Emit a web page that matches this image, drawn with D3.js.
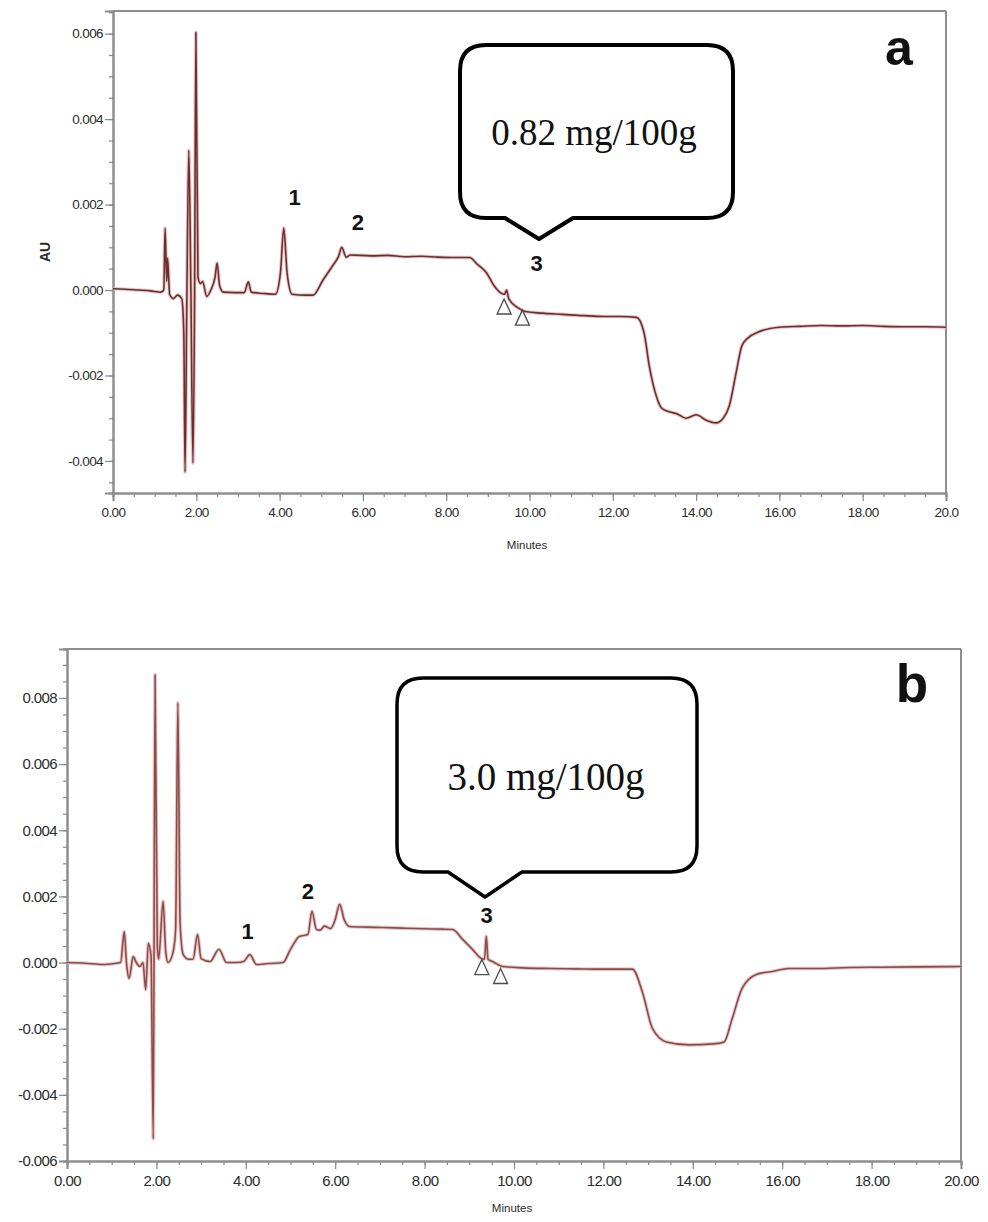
<!DOCTYPE html>
<html>
<head>
<meta charset="utf-8">
<script src="https://cdn.jsdelivr.net/npm/d3@7"></script>
<style>
  html, body { margin: 0; padding: 0; background: #fff; }
  svg { display: block; }
</style>
</head>
<body>
<svg id="chart" width="988" height="1222"></svg>
<script>
// ---------------- DATA ----------------
// Panel a chromatogram (time in minutes, absorbance AU)
const timeA = [0.00,0.30,0.60,0.90,1.15,1.22,1.25,1.29,1.31,1.36,1.45,1.55,1.65,1.70,1.73,1.77,1.82,1.87,1.92,1.96,1.99,2.04,2.10,2.15,2.25,2.35,2.45,2.50,2.56,2.65,2.90,3.15,3.25,3.32,3.60,3.90,4.02,4.10,4.18,4.30,4.60,4.80,5.04,5.28,5.42,5.49,5.60,5.70,6.20,6.60,7.00,7.40,7.80,8.20,8.56,8.75,8.97,9.15,9.30,9.40,9.45,9.50,9.70,9.93,10.30,10.80,11.30,11.80,12.20,12.57,12.75,12.88,13.05,13.17,13.36,13.55,13.76,14.00,14.25,14.48,14.65,14.80,14.96,15.10,15.25,15.50,16.00,16.50,17.00,17.50,18.00,18.50,19.00,19.50,20.00];
const auA   = [0.00003,0.00002,0.0,-0.00002,-0.00005,0.0,0.00145,0.0002,0.00075,-0.0001,-0.0002,-0.00012,-0.0002,-0.001,-0.00426,-0.0005,0.00327,0.0,-0.00405,0.0,0.00603,0.0003,0.00015,0.0002,-0.00015,0.0,0.0003,0.00063,0.0001,-0.00005,-0.00006,-0.00006,0.00019,-0.00005,-0.00008,-0.0001,0.0004,0.00145,0.0004,-0.0001,-0.00012,-0.00012,0.00023,0.00058,0.0008,0.001,0.00077,0.00082,0.0008,0.00081,0.00078,0.00079,0.00077,0.00076,0.00076,0.0006,0.0004,0.0001,-0.00006,-0.0001,0.0,-0.0002,-0.0004,-0.00051,-0.00054,-0.00057,-0.0006,-0.00062,-0.00062,-0.00064,-0.001,-0.0018,-0.0025,-0.00276,-0.00285,-0.0029,-0.003,-0.00292,-0.00305,-0.00311,-0.003,-0.0027,-0.00194,-0.0013,-0.00112,-0.00098,-0.00087,-0.00085,-0.00083,-0.00084,-0.00083,-0.00085,-0.00086,-0.00086,-0.00087];

// Panel b chromatogram
const timeB = [0.00,0.40,0.80,1.10,1.20,1.28,1.33,1.39,1.48,1.55,1.63,1.70,1.76,1.82,1.88,1.93,1.97,2.02,2.05,2.15,2.21,2.26,2.37,2.43,2.48,2.53,2.60,2.72,2.82,2.92,3.00,3.20,3.40,3.57,3.80,3.95,4.09,4.24,4.50,4.83,5.00,5.20,5.39,5.48,5.58,5.66,5.76,5.90,6.00,6.10,6.20,6.32,6.70,7.06,7.50,8.00,8.40,8.63,8.85,9.07,9.27,9.34,9.38,9.42,9.52,9.75,10.20,10.80,11.40,11.90,12.30,12.65,12.87,13.10,13.41,13.92,14.44,14.70,14.88,15.10,15.42,15.78,16.15,16.76,17.50,18.20,19.00,20.00];
const auB   = [0.0,-0.00002,-0.00006,-0.00002,0.0,0.00094,0.0,-0.00048,0.00018,0.0,-0.00012,0.0,-0.00082,0.00058,0.0002,-0.00533,0.0087,0.0005,0.0001,0.00185,0.0003,0.0,0.0003,0.001,0.00785,0.0012,0.00024,0.0001,0.0001,0.00085,0.00012,0.00003,0.0004,0.0,0.0,0.00003,0.00024,-0.00006,-0.00003,0.0,0.0004,0.00079,0.00085,0.00155,0.001,0.00098,0.0011,0.00103,0.0013,0.00176,0.0013,0.00109,0.00107,0.00106,0.00104,0.00102,0.00101,0.001,0.0007,0.0004,0.00012,0.0001,0.00079,0.0001,0.00003,-0.00012,-0.00016,-0.00018,-0.00019,-0.0002,-0.0002,-0.0002,-0.00088,-0.002,-0.0024,-0.00249,-0.00246,-0.0024,-0.0017,-0.00079,-0.00036,-0.00027,-0.00018,-0.00018,-0.00015,-0.00014,-0.00013,-0.00012];

// Peak start/end markers (triangles)
const markerTimeA = [9.39, 9.83];
const markerAUA   = [-0.00021, -0.00047];
const markerTimeB = [9.28, 9.70];
const markerAUB   = [0.00009, -0.00018];

// Peak number labels
const peakNames   = ["1", "2", "3"];
const peakTimeA   = [4.36, 5.88, 10.17];
const peakAUA     = [0.00218, 0.00159, 0.00063];
const peakTimeB   = [4.04, 5.39, 9.39];
const peakAUB     = [0.00094, 0.00215, 0.00145];

// Tick values
const xMajorTicks = [0, 2, 4, 6, 8, 10, 12, 14, 16, 18, 20];
const xMinorTicks = d3.range(0, 20.01, 0.5);
const yMajorTicksA = [-0.004, -0.002, 0, 0.002, 0.004, 0.006];
const yMinorTicksA = d3.range(-0.0045, 0.00651, 0.0005);
const yMajorTicksB = [-0.006, -0.004, -0.002, 0, 0.002, 0.004, 0.006, 0.008];
const yMinorTicksB = d3.range(-0.006, 0.00951, 0.0005);

// Texts
const panelLetters = ["a", "b"];
const calloutTexts = ["0.82 mg/100g", "3.0 mg/100g"];
const xTitle = "Minutes";
const yTitle = "AU";

// ---------------- DRAWING ----------------
const svg = d3.select("#chart");
const fmtX = d3.format(".2f");
const fmtY = v => d3.format(".3f")(v).replace("\u2212", "-");

function drawPanel(cfg) {
  const g = svg.append("g");
  const x = d3.scaleLinear().domain([0, 20]).range([cfg.left, cfg.right]);
  const y = d3.scaleLinear().domain(cfg.yDomain).range([cfg.bottom, cfg.top]);

  const frameColor = "#8e8e8e";
  g.append("line").attr("x1", cfg.left).attr("x2", cfg.right).attr("y1", cfg.top).attr("y2", cfg.top)
    .attr("stroke", frameColor).attr("stroke-width", 2);
  g.append("line").attr("x1", cfg.right).attr("x2", cfg.right).attr("y1", cfg.top).attr("y2", cfg.bottom)
    .attr("stroke", frameColor).attr("stroke-width", 2);

  const xMinor = g.append("g").attr("transform", `translate(0,${cfg.bottom})`)
    .call(d3.axisBottom(x).tickValues(xMinorTicks).tickSize(4).tickFormat(""));
  const xMajor = g.append("g").attr("transform", `translate(0,${cfg.bottom})`)
    .call(d3.axisBottom(x).tickValues(xMajorTicks).tickSize(8).tickPadding(6).tickFormat(fmtX));
  const yMinor = g.append("g").attr("transform", `translate(${cfg.left},0)`)
    .call(d3.axisLeft(y).tickValues(cfg.yMinor).tickSize(4).tickFormat(""));
  const yMajor = g.append("g").attr("transform", `translate(${cfg.left},0)`)
    .call(d3.axisLeft(y).tickValues(cfg.yMajor).tickSize(8).tickPadding(2).tickFormat(fmtY));

  [xMinor, xMajor, yMinor, yMajor].forEach(ax => {
    ax.select(".domain").attr("stroke", frameColor).attr("stroke-width", 2);
    ax.selectAll(".tick line").attr("stroke", "#8a8a8a").attr("stroke-width", 1.2);
    ax.selectAll("text").attr("fill", "#2b2b2b")
      .attr("font-family", "'Liberation Sans', Arial, sans-serif");
  });
  xMajor.selectAll("text").attr("font-size", cfg.xFont).attr("letter-spacing", "-0.6");
  yMajor.selectAll("text").attr("font-size", cfg.yFont).attr("letter-spacing", "-0.6");
  if (cfg.lastXLabel) {
    xMajor.selectAll(".tick").filter(d => d === 20).select("text").text(cfg.lastXLabel);
  }

  g.append("text").attr("x", cfg.xTitleX).attr("y", cfg.xTitleY).attr("text-anchor", "middle")
    .attr("font-family", "'Liberation Sans', Arial, sans-serif").attr("font-size", 11.5)
    .attr("fill", "#2b2b2b").text(xTitle);
  if (cfg.showYTitle) {
    g.append("text").attr("transform", `translate(${cfg.yTitleX},${cfg.yTitleY}) rotate(-90)`)
      .attr("text-anchor", "middle").attr("font-family", "'Liberation Sans', Arial, sans-serif")
      .attr("font-size", 14).attr("font-weight", "bold").attr("fill", "#2b2b2b").text(yTitle);
  }

  const pts = cfg.times.map((t, i) => [t, cfg.au[i]]);
  const line = d3.line().x(d => x(d[0])).y(d => y(d[1])).curve(d3.curveMonotoneX);
  g.append("path").datum(pts).attr("d", line).attr("fill", "none")
    .attr("stroke", "#e3b2b2").attr("stroke-width", 3.6).attr("stroke-linejoin", "round").attr("opacity", 0.75);
  g.append("path").datum(pts).attr("d", line).attr("fill", "none")
    .attr("stroke", cfg.lineColor).attr("stroke-width", 1.6).attr("stroke-linejoin", "round");

  cfg.mTimes.forEach((t, i) => {
    const px = x(t), py = y(cfg.mAU[i]);
    g.append("path")
      .attr("d", `M${px},${py} L${px + 7},${py + 15} L${px - 7},${py + 15} Z`)
      .attr("fill", "none").attr("stroke", "#4a4a4a").attr("stroke-width", 1.3);
  });

  cfg.pTimes.forEach((t, i) => {
    g.append("text").attr("x", x(t)).attr("y", y(cfg.pAU[i])).attr("dy", "0.36em")
      .attr("text-anchor", "middle").attr("font-family", "'Liberation Sans', Arial, sans-serif")
      .attr("font-weight", "bold").attr("font-size", 22).attr("fill", "#111").text(peakNames[i]);
  });

  g.append("text").attr("x", cfg.letterX).attr("y", cfg.letterY).attr("text-anchor", "middle")
    .attr("font-family", "'Liberation Sans', Arial, sans-serif").attr("font-weight", "bold")
    .attr("font-size", cfg.letterSize).attr("fill", "#111").text(cfg.letter);

  const c = cfg.callout, r = c.r;
  const d = [
    `M${c.x0 + r},${c.y0}`,
    `L${c.x1 - r},${c.y0}`,
    `Q${c.x1},${c.y0} ${c.x1},${c.y0 + r}`,
    `L${c.x1},${c.y1 - r}`,
    `Q${c.x1},${c.y1} ${c.x1 - r},${c.y1}`,
    `L${c.pR},${c.y1}`,
    `L${c.pX},${c.pY}`,
    `L${c.pL},${c.y1}`,
    `L${c.x0 + r},${c.y1}`,
    `Q${c.x0},${c.y1} ${c.x0},${c.y1 - r}`,
    `L${c.x0},${c.y0 + r}`,
    `Q${c.x0},${c.y0} ${c.x0 + r},${c.y0}`,
    "Z"
  ].join(" ");
  g.append("path").attr("d", d).attr("fill", "#fff").attr("stroke", "#000")
    .attr("stroke-width", c.sw).attr("stroke-linejoin", "round");
  g.append("text").attr("x", c.tx).attr("y", c.ty).attr("text-anchor", "middle")
    .attr("font-family", "'Liberation Serif', 'Times New Roman', serif")
    .attr("font-size", c.fs).attr("fill", "#111").text(cfg.calloutText);
}

drawPanel({
  left: 113, right: 946, top: 11, bottom: 493,
  yDomain: [-0.00475, 0.00653],
  yMajor: yMajorTicksA, yMinor: yMinorTicksA,
  xFont: 13.5, yFont: 13.5, lastXLabel: "20.0",
  xTitleX: 527, xTitleY: 549, showYTitle: true, yTitleX: 50, yTitleY: 252,
  times: timeA, au: auA, lineColor: "#6a3030",
  mTimes: markerTimeA, mAU: markerAUA,
  pTimes: peakTimeA, pAU: peakAUA,
  letter: panelLetters[0], letterX: 899, letterY: 65, letterSize: 50,
  callout: { x0: 460, x1: 733, y0: 45, y1: 218, r: 26, pL: 505, pX: 539, pY: 239, pR: 573, sw: 4,
             tx: 594, ty: 145, fs: 37 },
  calloutText: calloutTexts[0]
});

drawPanel({
  left: 67, right: 961, top: 649, bottom: 1161,
  yDomain: [-0.006, 0.00948],
  yMajor: yMajorTicksB, yMinor: yMinorTicksB,
  xFont: 15, yFont: 15, lastXLabel: null,
  xTitleX: 512, xTitleY: 1212, showYTitle: false,
  times: timeB, au: auB, lineColor: "#8a4c4c",
  mTimes: markerTimeB, mAU: markerAUB,
  pTimes: peakTimeB, pAU: peakAUB,
  letter: panelLetters[1], letterX: 912, letterY: 702, letterSize: 53,
  callout: { x0: 397, x1: 697, y0: 678, y1: 872, r: 26, pL: 448, pX: 485, pY: 897, pR: 522, sw: 3.5,
             tx: 546, ty: 790, fs: 39 },
  calloutText: calloutTexts[1]
});
</script>
</body>
</html>
